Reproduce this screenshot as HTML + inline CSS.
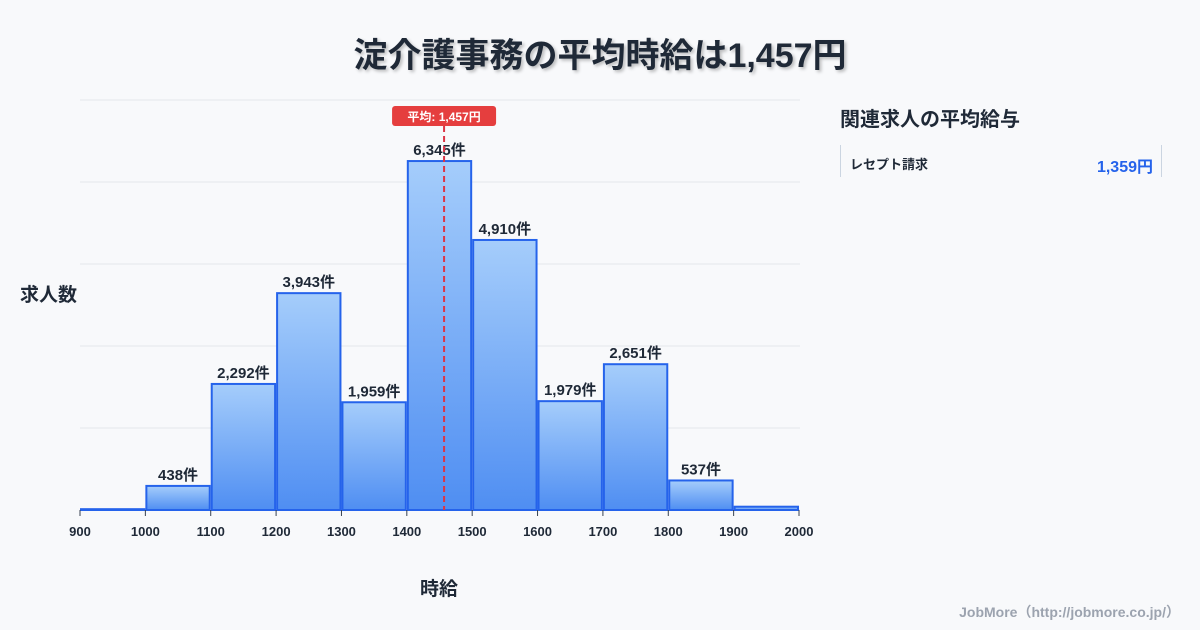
<!DOCTYPE html>
<html><head><meta charset="utf-8">
<style>
body{margin:0;width:1200px;height:630px;background:#f8f9fb;font-family:"Liberation Sans","Noto Sans CJK JP",sans-serif;overflow:hidden;position:relative}
.t{position:absolute;color:#1f2937}
</style></head><body>
<div class="t" style="left:0;width:1200px;top:28px;text-align:center;font-size:34px;font-weight:bold;text-shadow:2px 2px 3px rgba(0,0,0,0.25)">淀介護事務の平均時給は1,457円</div>
<div class="t" style="left:20px;top:280px;font-size:19px;font-weight:bold">求人数</div>
<div class="t" style="left:420px;top:574px;font-size:19px;font-weight:bold">時給</div>
<div class="t" style="left:840px;top:103px;font-size:20px;font-weight:bold">関連求人の平均給与</div>
<div style="position:absolute;left:840px;top:145px;width:320px;height:32px;border-left:1px solid #cbd5e1;border-right:1px solid #cbd5e1">
<span class="t" style="left:9px;top:9px;font-size:13px;font-weight:bold">レセプト請求</span>
<span class="t" style="right:8px;top:8px;font-size:16px;font-weight:bold;color:#2563eb">1,359円</span>
</div>
<div class="t" style="right:20px;top:602px;font-size:14px;font-weight:bold;color:#9ca3af">JobMore（http://jobmore.co.jp/）</div>
<svg id="c" width="1200" height="630" style="position:absolute;left:0;top:0">
<defs><linearGradient id="g" x1="0" y1="0" x2="0" y2="1"><stop offset="0" stop-color="#a5cdfb"/><stop offset="1" stop-color="#4f8ef2"/></linearGradient></defs>
</svg>
<script>
const bins=[900,1000,1100,1200,1300,1400,1500,1600,1700,1800,1900];
const counts=[15,438,2292,3943,1959,6345,4910,1979,2651,537,60];
const showLabel=[false,true,true,true,true,true,true,true,true,true,false];
const ticks=[900,1000,1100,1200,1300,1400,1500,1600,1700,1800,1900,2000];
const avg=1457;
const yMax=7455;
const svg=document.getElementById('c');
const NS='http://www.w3.org/2000/svg';
const X=v=>80+(v-900)*(719/1100);
const Y=v=>510-v*(410/yMax);
function mk(t,a){const e=document.createElementNS(NS,t);for(const k in a)e.setAttribute(k,a[k]);svg.appendChild(e);return e;}
for(let i=0;i<=5;i++){const e=mk('line',{x1:80,x2:800,y1:Y(yMax*i/5),y2:Y(yMax*i/5),stroke:'#e5e7eb'});

}
bins.forEach((b,i)=>{const x0=X(b)+1,x1=X(b+100)-1,y=Y(counts[i]);
const r=mk('rect',{x:x0,y:y,width:x1-x0,height:510-y,fill:'url(#g)',stroke:'#2563eb','stroke-width':2});


if(showLabel[i]){const t=mk('text',{x:(x0+x1)/2,y:y-6,'text-anchor':'middle','font-size':15,'font-weight':'bold',fill:'#1f2937'});t.textContent=counts[i].toLocaleString('en-US')+'件';

}});
ticks.forEach(v=>{const l=mk('line',{x1:X(v),x2:X(v),y1:510,y2:516,stroke:'#374151'});


const t=mk('text',{x:X(v),y:536,'text-anchor':'middle','font-size':13,'font-weight':'bold',fill:'#1f2937'});t.textContent=v;

});
const ax=X(avg);
const al=mk('line',{x1:ax,x2:ax,y1:126,y2:510,stroke:'#dc3545','stroke-width':2,'stroke-dasharray':'6,4'});


const ab=mk('rect',{x:ax-52,y:106,width:104,height:20,rx:3,fill:'#e53e3e'});


const at=mk('text',{x:ax,y:121,'text-anchor':'middle','font-size':12,'font-weight':'bold',fill:'#fff'});at.textContent='平均: '+avg.toLocaleString('en-US')+'円';


</script>
</body></html>
